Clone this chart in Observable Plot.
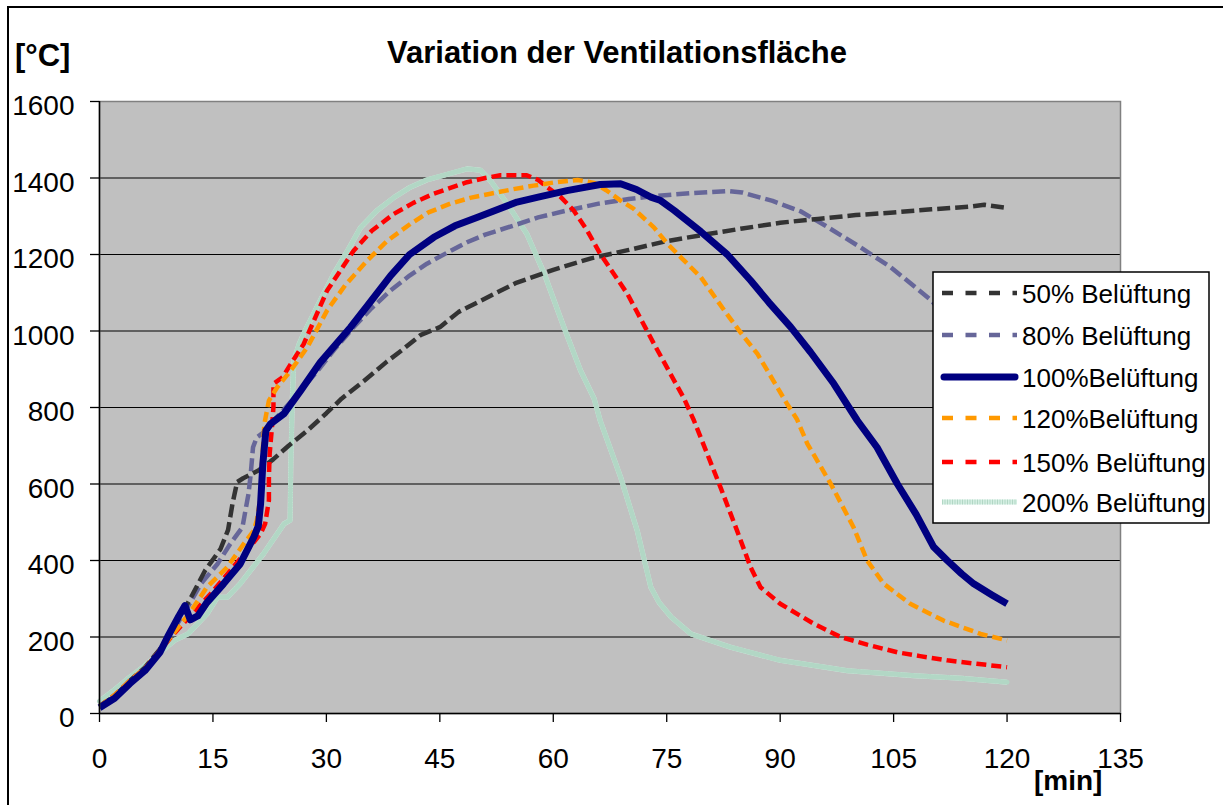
<!DOCTYPE html>
<html><head><meta charset="utf-8">
<script src="https://cdn.jsdelivr.net/npm/d3@7"></script>
<script src="https://cdn.jsdelivr.net/npm/@observablehq/plot@0.6"></script>
<style>
body{margin:0;background:#fff;}
#chart{position:relative;width:1223px;height:805px;overflow:hidden;}
</style>
</head><body><div id="chart"></div>
<script>
// ---- data (time in min, temperature in °C) ----
const xTicks = [0,15,30,45,60,75,90,105,120,135];
const yTicks = [0,200,400,600,800,1000,1200,1400,1600];
const gridTicks = [200,400,600,800,1000,1200,1400];

const t50 = [0,2,4,6,8,10,12,14,16,17,17.6,18.2,19,21,23,25,27.5,30,32,35,38,40,42.5,45,47.5,50,55,60,65,70,75,80,85,90,95,100,105,110,115,117,120];
const v50 = [20,45,85,120,168,232,300,375,430,480,550,605,615,635,665,700,740,785,823,870,920,950,990,1010,1050,1075,1125,1160,1190,1212,1235,1252,1268,1283,1293,1303,1310,1318,1325,1330,1322];

const t80 = [0,2,4,6,8,10,12,13.4,15.6,17.3,18.9,19.3,19.7,20,20.3,20.8,21.7,23,26,29,31,33.6,36,38.5,41,43.3,46,48.6,51,54.8,58,61.8,66,70,73,78,83,85,89,92.7,96,100.6,104.6,110,115,120];
const v80 = [18,45,85,120,168,225,290,339,391,444,487,531,574,627,696,722,735,765,830,900,950,1010,1060,1106,1145,1176,1205,1232,1252,1276,1297,1315,1333,1345,1352,1360,1366,1362,1340,1313,1275,1219,1167,1080,960,830];

const t100 = [0,2,4,6,8,9,10.5,11.3,12,13,14.2,16.4,18.6,20.4,21,21.3,21.6,22,22.6,24.4,26.6,29.2,33.2,35.5,38.5,41,44.2,47,49.9,55.2,58,61.8,66.2,68.9,71,72.9,74.2,76,79.5,83,86.1,88.5,91.4,94,97.1,100.2,102.8,105.5,108,110.3,112.1,114,115.6,118,120];
const v100 = [15,40,78,112,160,200,255,282,245,255,290,339,391,461,490,548,653,740,757,784,844,918,1010,1068,1145,1200,1245,1275,1297,1337,1350,1367,1383,1385,1370,1350,1341,1315,1260,1200,1132,1075,1010,945,862,766,696,600,520,435,400,365,339,310,287];

const t120 = [0,2,4,6,8,10,12,14.2,16.9,19.1,20.4,20.8,21.3,21.5,21.8,22.4,23.5,25.3,27.5,30.1,32.5,35.4,38,41.1,43.5,46.4,49,51.7,54.5,57.4,60,63.2,65.4,67,68.9,70.6,73.3,75.1,77,79.5,82.6,85,87,90.9,92.2,93.6,96.7,99.7,101.5,103.7,107.2,111.6,116.5,120];
const v120 = [18,48,85,118,165,215,265,330,383,444,478,505,565,660,757,818,853,897,958,1054,1120,1184,1235,1280,1310,1333,1348,1359,1370,1380,1388,1395,1387,1368,1341,1320,1271,1228,1190,1141,1054,990,940,810,770,705,600,487,400,339,287,243,208,191];

const t150 = [0,2,4,6,8,10,12,14.7,17.3,19.5,21.3,21.9,22.4,22.4,22.5,22.8,23,23,24.2,25.3,27,30.1,33.6,36,38.9,41.5,44.2,48.6,51,53,56.5,58,59.2,61,62.7,64.5,66.2,69.8,73.3,77.3,78.6,82.1,84.3,86.1,87.4,90,94.4,98,101.5,105.5,108.5,112.1,116,120];
const v150 = [18,48,85,118,165,212,255,313,374,426,470,496,557,618,679,748,801,862,879,914,966,1106,1210,1262,1306,1335,1359,1389,1400,1407,1407,1395,1376,1350,1315,1262,1202,1097,967,823,766,592,478,382,330,287,235,200,180,160,150,139,130,121];

const t200 = [0,2,4,6,8,10,11.7,14.2,15.6,16.9,18.6,21.7,24.4,25.2,25.3,25.5,25.7,26.4,27,29.2,31,32.8,34.5,36.7,39,41.1,43.3,45.5,48.6,50.4,51.7,53.9,56.5,58.8,61.4,63.6,65.4,66.2,68.9,71.1,72.9,74,75.6,78.2,83.5,90,98.9,107.7,114,120];
const v200 = [32,62,95,125,160,192,208,260,304,304,339,418,496,505,653,827,923,966,993,1080,1150,1210,1270,1315,1350,1376,1395,1407,1424,1420,1393,1333,1254,1150,1010,897,823,766,618,478,330,290,252,208,173,139,112,99,92,82];

const seriesNames = ["50% Belüftung","80% Belüftung","100%Belüftung","120%Belüftung","150% Belüftung","200% Belüftung"];

// ---- styles ----
const styles = [
  {stroke:"#333333", strokeWidth:4.5, strokeDasharray:"13,5"},
  {stroke:"#666699", strokeWidth:4.5, strokeDasharray:"13,5"},
  {stroke:"#000080", strokeWidth:7},
  {stroke:"#FF9900", strokeWidth:4.5, strokeDasharray:"10,5"},
  {stroke:"#FF0000", strokeWidth:4.5, strokeDasharray:"10,5"},
  {stroke:"#d4eee2", strokeWidth:5}
];
const legendDash = "11,12.5";
const mintStripe = {stroke:"#b2d7c5", strokeWidth:5, strokeDasharray:"1,1.5"};
const series = [[t50,v50],[t80,v80],[t100,v100],[t120,v120],[t150,v150],[t200,v200]];

const lineMarks = [];
[5,1,0,4,3,2].forEach(i => {
  const [t,v] = series[i];
  lineMarks.push(Plot.line(v, {x: t, y: v, ...styles[i], strokeLinejoin:"round", strokeLinecap:"butt"}));
  if (i === 5) lineMarks.push(Plot.line(v, {x: t, y: v, ...mintStripe}));
});

const fmt = d => String(d);
const chart = Plot.plot({
  width: 1223, height: 805,
  marginLeft: 99, marginRight: 103, marginTop: 101, marginBottom: 92,
  style: {fontFamily: "'Liberation Sans', Arial, sans-serif", fontSize: "28px", color: "#000", background: "transparent", overflow: "visible"},
  x: {domain: [0,135]},
  y: {domain: [0,1600]},
  marks: [
    Plot.frame({fill: "#c0c0c0", stroke: null}),
    Plot.gridY(gridTicks, {stroke: "#000", strokeOpacity: 1, strokeWidth: 1.2}),
    ...lineMarks,
    Plot.frame({stroke: "#808080", strokeWidth: 1.5}),
    Plot.ruleX([0], {stroke: "#000", strokeWidth: 1.5}),
    Plot.ruleY([0], {stroke: "#000", strokeWidth: 1.5}),
    Plot.axisX(xTicks, {tickSize: 9, tickPadding: 26, fontSize: 28, label: null, strokeWidth: 1.3, tickFormat: fmt}),
    Plot.axisY(yTicks, {tickSize: 9, fill: "none", label: null, strokeWidth: 1.3}),
    Plot.axisY(yTicks, {tickSize: 0, tickPadding: 25, dy: 5, fontSize: 28, label: null, tickFormat: fmt})
  ]
});
document.getElementById("chart").appendChild(chart);

const svg = d3.select(chart);
// outer border (left and top)
svg.append("path").attr("d","M8,810 L8,7 L1230,7").attr("fill","none").attr("stroke","#000").attr("stroke-width",2);
// title and units
svg.append("text").attr("x",617).attr("y",63).attr("text-anchor","middle")
  .attr("font-weight","bold").attr("font-size",31).text("Variation der Ventilationsfläche");
svg.append("text").attr("x",15).attr("y",66).attr("text-anchor","start").attr("font-weight","bold").attr("font-size",31).text("[°C]");
svg.append("text").attr("x",1034).attr("y",790).attr("text-anchor","start").attr("font-weight","bold").attr("font-size",28).text("[min]");

// legend
const lg = svg.append("g");
lg.append("rect").attr("x",933).attr("y",272).attr("width",276).attr("height",251)
  .attr("fill","#fff").attr("stroke","#000").attr("stroke-width",1.5);
const rowY = [293,335,377,418,462,502];
seriesNames.forEach((name,i) => {
  const s = styles[i];
  const ln = lg.append("line").attr("x1", i===2 ? 944 : 942).attr("x2", i===2 ? 1015 : 1017).attr("y1",rowY[i]).attr("y2",rowY[i])
    .attr("stroke",s.stroke).attr("stroke-width",s.strokeWidth).attr("stroke-linecap", i===2 ? "round":"butt");
  if (s.strokeDasharray) ln.attr("stroke-dasharray",legendDash);
  if (i === 5) lg.append("line").attr("x1",942).attr("x2",1017).attr("y1",rowY[i]).attr("y2",rowY[i])
    .attr("stroke",mintStripe.stroke).attr("stroke-width",mintStripe.strokeWidth).attr("stroke-dasharray",mintStripe.strokeDasharray);
  lg.append("text").attr("x",1022).attr("y",rowY[i]+9.5).attr("text-anchor","start").attr("font-size",26).text(name);
});
</script>
</body></html>
